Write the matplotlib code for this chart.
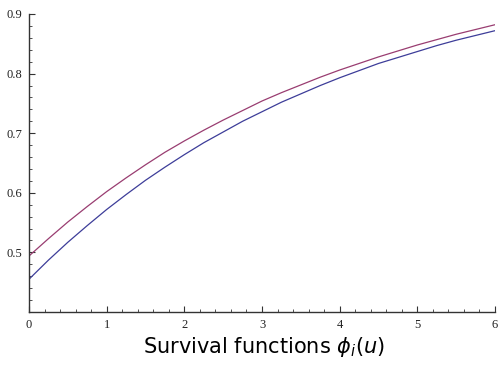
import numpy as np
import matplotlib
matplotlib.use("Agg")
import matplotlib.pyplot as plt
from matplotlib.ticker import MultipleLocator

# values
u = [0.0, 0.25, 0.5, 0.75, 1.0, 1.25, 1.5, 1.75, 2.0, 2.25, 2.5, 2.75, 3.0,
     3.25, 3.5, 3.75, 4.0, 4.25, 4.5, 4.75, 5.0, 5.25, 5.5, 5.75, 6.0]
phi_1 = [0.455, 0.487, 0.517, 0.545, 0.572, 0.597, 0.621, 0.643, 0.664, 0.684,
         0.702, 0.720, 0.736, 0.752, 0.766, 0.780, 0.793, 0.805, 0.817, 0.827,
         0.837, 0.847, 0.856, 0.864, 0.872]
phi_2 = [0.494, 0.523, 0.551, 0.577, 0.602, 0.625, 0.647, 0.668, 0.687, 0.705,
         0.722, 0.738, 0.754, 0.768, 0.781, 0.794, 0.806, 0.817, 0.828, 0.838,
         0.848, 0.857, 0.866, 0.874, 0.882]
x_ticks = [0, 1, 2, 3, 4, 5, 6]
y_ticks = [0.5, 0.6, 0.7, 0.8, 0.9]
title = r"Survival functions $\phi_i(u)$"

plt.rcParams["mathtext.fontset"] = "dejavusans"

fig = plt.figure(figsize=(5.01, 3.66), dpi=100)
ax = fig.add_axes([29 / 501, 54 / 366, 466 / 501, 298 / 366])

ax.plot(u, phi_1, color="#3d3d99", lw=0.9)
ax.plot(u, phi_2, color="#993d71", lw=0.9)

ax.set_xlim(0, 6)
ax.set_ylim(0.4, 0.9)
ax.set_xticks(x_ticks)
ax.set_yticks(y_ticks)
ax.set_xticklabels([str(t) for t in x_ticks])
ax.set_yticklabels([f"{t:.1f}" for t in y_ticks])
ax.xaxis.set_minor_locator(MultipleLocator(0.2))
ax.yaxis.set_minor_locator(MultipleLocator(0.02))

for s in ["top", "right"]:
    ax.spines[s].set_visible(False)
for s in ["left", "bottom"]:
    ax.spines[s].set_color("#333333")
    ax.spines[s].set_linewidth(1.0)

ax.tick_params(which="major", direction="in", length=4, width=0.8, color="#333333",
               labelsize=9, pad=5)
ax.tick_params(which="minor", direction="in", length=2, width=0.6, color="#333333")
for lab in ax.get_xticklabels() + ax.get_yticklabels():
    lab.set_family("Liberation Serif")
    lab.set_color("#222222")

fig.text(264 / 501, 1 - 353 / 366, title, ha="center", va="baseline", fontsize=15)

fig.savefig("out.png", dpi=100)
